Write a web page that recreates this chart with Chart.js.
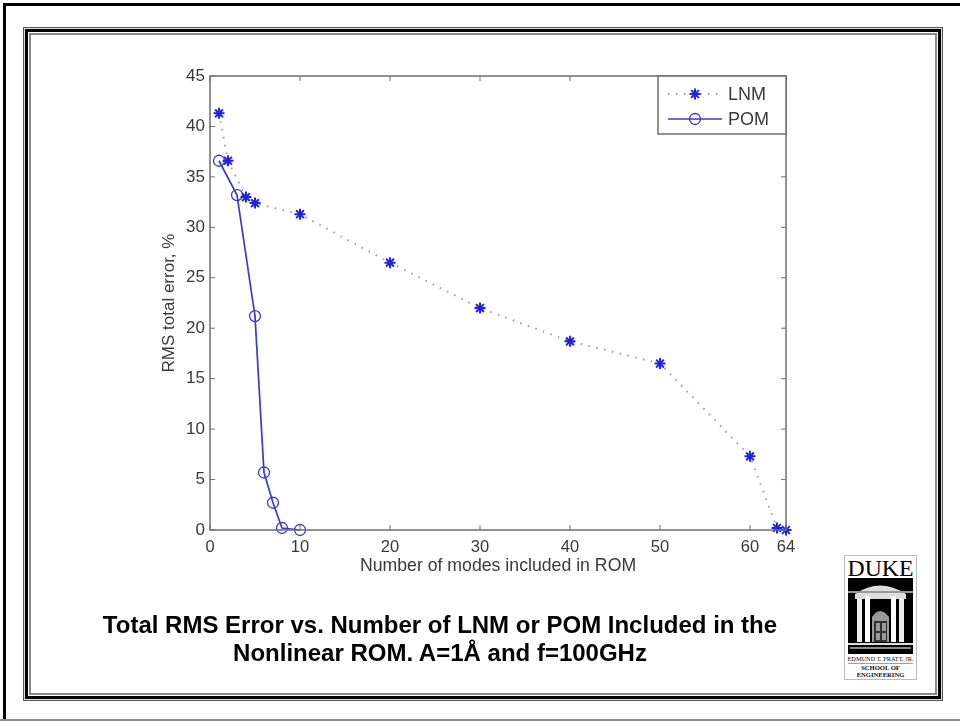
<!DOCTYPE html>
<html>
<head>
<meta charset="utf-8">
<title>Total RMS Error</title>
<script src="https://cdn.jsdelivr.net/npm/chart.js@4/dist/chart.umd.min.js"></script>
<style>
    html, body { margin: 0; padding: 0; background: #fff; }
    #page { position: relative; width: 960px; height: 721px; overflow: hidden; background: #fff; }
    #outer { position: absolute; left: 3px; top: 3px; width: 960px; height: 716px; border-left: 3px solid #000; border-top: 3px solid #000; box-sizing: border-box; }
    #bottomline { position: absolute; left: 0; top: 719px; width: 960px; height: 2px; background: #8c8c8c; }
    #frame { position: absolute; left: 23px; top: 27px; width: 920px; height: 674px; box-sizing: border-box;
        box-shadow: inset 0 0 0 1px #555, inset 0 0 0 2px #ddd, inset 0 0 0 5px #000, inset 0 0 0 6px #fff, inset 0 0 0 8px #888; }
    #chart { position: absolute; left: 0; top: 0; }
    #caption { position: absolute; left: 40px; top: 611px; width: 800px; text-align: center; color: #000;
        font: bold 24px/28px "Liberation Sans", Arial, sans-serif; }
    #logo { position: absolute; left: 844px; top: 555px; }
</style>
</head>
<body>
<div id="page">
    <div id="outer"></div>
    <div id="bottomline"></div>
    <div id="frame"></div>
    <canvas id="chart" width="960" height="721"></canvas>
    <div id="caption">Total RMS Error vs. Number of LNM or POM Included in the<br>Nonlinear ROM. A=1Å and f=100GHz</div>
    <svg id="logo" width="73" height="125" viewBox="0 0 73 125">
        <rect x="0.5" y="0.5" width="72" height="124" fill="#fff" stroke="#bbb"/>
        <text x="36.5" y="21" text-anchor="middle" font-family="Liberation Serif" font-size="22.5" textLength="66" lengthAdjust="spacingAndGlyphs" fill="#000">DUKE</text>
        <rect x="4" y="23" width="65" height="76" fill="#000"/>
        <path d="M11 39 Q36 22 62 39 L62 44 L11 44 Z" fill="#ddd"/>
        <rect x="4" y="36" width="65" height="2" fill="#999"/>
        <rect x="13" y="44" width="5" height="43" fill="#eee"/>
        <rect x="21" y="41" width="5" height="46" fill="#fff"/>
        <rect x="47" y="41" width="5" height="46" fill="#fff"/>
        <rect x="55" y="44" width="5" height="43" fill="#eee"/>
        <path d="M28 87 L28 62 Q36 50 45 62 L45 87 Z" fill="#999"/>
        <rect x="30" y="66" width="13" height="21" fill="#333"/>
        <rect x="32" y="68" width="4" height="8" fill="#999"/>
        <rect x="38" y="68" width="4" height="8" fill="#999"/>
        <rect x="32" y="78" width="4" height="7" fill="#999"/>
        <rect x="38" y="78" width="4" height="7" fill="#999"/>
        <rect x="4" y="88" width="65" height="2" fill="#ddd"/>
        <rect x="6" y="92" width="61" height="2" fill="#888"/>
        <text x="36.5" y="106" text-anchor="middle" font-family="Liberation Serif" font-size="6.6" textLength="66" lengthAdjust="spacingAndGlyphs" fill="#111">EDMUND T. PRATT, JR.</text>
        <rect x="4" y="108" width="65" height="0.7" fill="#777"/>
        <text x="36.5" y="115" text-anchor="middle" font-family="Liberation Serif" font-weight="bold" font-size="6.6" fill="#111">SCHOOL OF</text>
        <text x="36.5" y="122" text-anchor="middle" font-family="Liberation Serif" font-weight="bold" font-size="6.6" fill="#111">ENGINEERING</text>
    </svg>
</div>
<script>
const lnmModes = [1, 2, 4, 5, 10, 20, 30, 40, 50, 60, 63, 64];
const lnmError = [41.3, 36.6, 33, 32.4, 31.3, 26.5, 22, 18.7, 16.5, 7.3, 0.2, 0];
const pomModes = [1, 3, 5, 6, 7, 8, 10];
const pomError = [36.6, 33.2, 21.2, 5.7, 2.7, 0.2, 0];
const xTicks = [0, 10, 20, 30, 40, 50, 60, 64];
const yTicks = [0, 5, 10, 15, 20, 25, 30, 35, 40, 45];

const axisColor = '#6f6f6f';
const textColor = '#3a3a3a';
const lnmColor = '#2222dd';
const pomColor = '#3a3acc';
const dotColor = '#9a9ab0';
const fontFamily = '"Liberation Sans", Arial, sans-serif';

function toPoints(xs, ys) {
    return xs.map((x, i) => ({ x: x, y: ys[i] }));
}

// matlab style ticks, inward on all four sides
const inwardTicks = {
    id: 'inwardTicks',
    afterDatasetsDraw(chart) {
        const { ctx, chartArea: a, scales } = chart;
        ctx.save();
        ctx.strokeStyle = axisColor;
        ctx.lineWidth = 1;
        ctx.beginPath();
        xTicks.forEach(v => {
            const px = scales.x.getPixelForValue(v);
            ctx.moveTo(px, a.bottom);
            ctx.lineTo(px, a.bottom - 5);
            ctx.moveTo(px, a.top);
            ctx.lineTo(px, a.top + 5);
        });
        yTicks.forEach(v => {
            const py = scales.y.getPixelForValue(v);
            ctx.moveTo(a.left, py);
            ctx.lineTo(a.left + 5, py);
            ctx.moveTo(a.right, py);
            ctx.lineTo(a.right - 5, py);
        });
        ctx.stroke();
        ctx.lineWidth = 1.5;
        ctx.strokeRect(a.left, a.top, a.right - a.left, a.bottom - a.top);
        ctx.restore();
    }
};

// legend box in the top right corner, line and marker together
const cornerLegend = {
    id: 'cornerLegend',
    afterDraw(chart) {
        const { ctx, chartArea: a } = chart;
        const left = a.right - 128;
        const top = a.top;
        ctx.save();
        ctx.fillStyle = '#fff';
        ctx.strokeStyle = axisColor;
        ctx.lineWidth = 1.5;
        ctx.fillRect(left, top, 128, 58);
        ctx.strokeRect(left, top, 128, 58);

        chart.data.datasets.forEach((ds, i) => {
            const y = top + 18 + i * 25;
            ctx.save();
            ctx.strokeStyle = ds.borderColor;
            ctx.lineWidth = ds.borderWidth;
            ctx.setLineDash(ds.borderDash || []);
            ctx.beginPath();
            ctx.moveTo(left + 10, y);
            ctx.lineTo(left + 64, y);
            ctx.stroke();
            ctx.restore();
            ctx.lineWidth = ds.pointBorderWidth;
            ctx.strokeStyle = ds.pointBorderColor;
            ctx.fillStyle = 'rgba(0,0,0,0)';
            Chart.helpers.drawPoint(ctx, {
                pointStyle: ds.pointStyle,
                radius: ds.pointRadius,
                rotation: 0,
                borderWidth: ds.pointBorderWidth
            }, left + 37, y);
            ctx.fillStyle = textColor;
            ctx.font = '18px ' + fontFamily;
            ctx.textAlign = 'left';
            ctx.textBaseline = 'middle';
            ctx.fillText(ds.label, left + 70, y + 1);
        });
        ctx.restore();
    }
};

new Chart(document.getElementById('chart'), {
    type: 'scatter',
    data: {
        datasets: [{
            label: 'LNM',
            data: toPoints(lnmModes, lnmError),
            showLine: true,
            borderColor: dotColor,
            borderWidth: 2,
            borderDash: [1.5, 6.5],
            pointStyle: 'star',
            pointRadius: 5.5,
            pointBorderColor: lnmColor,
            pointBackgroundColor: lnmColor,
            pointBorderWidth: 2
        }, {
            label: 'POM',
            data: toPoints(pomModes, pomError),
            showLine: true,
            borderColor: pomColor,
            borderWidth: 1.7,
            pointStyle: 'circle',
            pointRadius: 5.5,
            pointBorderColor: pomColor,
            pointBackgroundColor: 'rgba(0,0,0,0)',
            pointBorderWidth: 1.3
        }]
    },
    options: {
        responsive: false,
        animation: false,
        clip: false,
        layout: { padding: { left: 159, top: 76, right: 174, bottom: 144 } },
        plugins: {
            legend: { display: false },
            tooltip: { enabled: false }
        },
        scales: {
            x: {
                type: 'linear',
                min: 0,
                max: 64,
                afterFit(scale) { scale.height = 47; },
                afterBuildTicks(scale) { scale.ticks = xTicks.map(v => ({ value: v })); },
                grid: { display: false, drawTicks: false },
                border: { display: false },
                ticks: {
                    autoSkip: false,
                    maxRotation: 0,
                    padding: 8,
                    color: textColor,
                    font: { family: fontFamily, size: 16.5 }
                },
                title: {
                    display: true,
                    text: 'Number of modes included in ROM',
                    color: textColor,
                    padding: { top: 0, bottom: 0 },
                    font: { family: fontFamily, size: 17.7 }
                }
            },
            y: {
                min: 0,
                max: 45,
                afterFit(scale) { scale.width = 51; },
                afterBuildTicks(scale) { scale.ticks = yTicks.map(v => ({ value: v })); },
                grid: { display: false, drawTicks: false },
                border: { display: false },
                ticks: {
                    autoSkip: false,
                    padding: 5,
                    color: textColor,
                    font: { family: fontFamily, size: 17 }
                },
                title: {
                    display: true,
                    text: 'RMS total error, %',
                    color: textColor,
                    padding: { top: 0, bottom: 0 },
                    font: { family: fontFamily, size: 17 }
                }
            }
        }
    },
    plugins: [inwardTicks, cornerLegend]
});
</script>
</body>
</html>
